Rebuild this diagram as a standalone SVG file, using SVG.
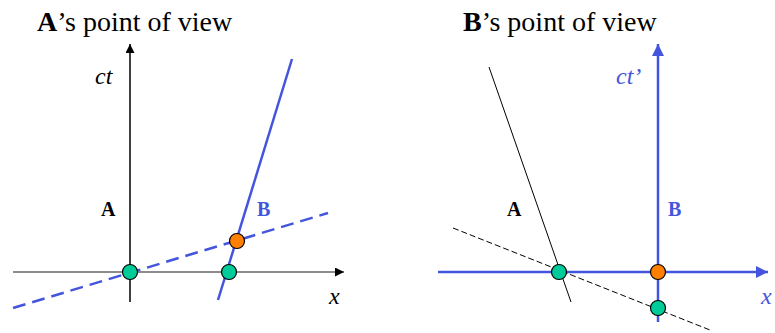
<svg xmlns="http://www.w3.org/2000/svg" width="775" height="333" viewBox="0 0 775 333">
<style>
text{font-family:"Times New Roman",Tinos,"Liberation Serif",serif}
.hd{font-size:28px;fill:#000}
.lb{font-size:20px;font-weight:bold}
.ix{font-size:24px;font-style:italic}
.blue{fill:#4455DD}
.blk{fill:#000}
.dot{stroke:#000;stroke-width:1.2}
.g{fill:#00CC99}
.o{fill:#FF7F00}
</style>
<defs>
<marker id="ak" viewBox="0 0 10 10" refX="10" refY="5" markerWidth="10" markerHeight="9" markerUnits="userSpaceOnUse" orient="auto"><path d="M0,0 L10,5 L0,10 z" fill="#000"/></marker>
<marker id="ab" viewBox="0 0 10 10" refX="10" refY="5" markerWidth="13" markerHeight="12" markerUnits="userSpaceOnUse" orient="auto"><path d="M0,0 L10,5 L0,10 z" fill="#4455DD"/></marker>
</defs>
<g id="left-panel">
<text class="hd" x="37" y="31"><tspan font-weight="bold">A</tspan>’s point of view</text>
<g id="connectors-left">
<line x1="130" y1="302" x2="130" y2="44" stroke="#000" stroke-width="1.5" marker-end="url(#ak)"/>
<line x1="13" y1="272" x2="344" y2="272" stroke="#666" stroke-width="1.5" marker-end="url(#ak)"/>
<line x1="292" y1="59" x2="218" y2="300" stroke="#4455DD" stroke-width="2.5"/>
<line x1="13" y1="308" x2="328" y2="213" stroke="#4455DD" stroke-width="2.5" stroke-dasharray="13,7"/>
</g>
<text class="ix blk" x="95" y="84">ct</text>
<text class="ix blk" x="329" y="304">x</text>
<text class="lb blk" x="101" y="216">A</text>
<text class="lb blue" x="257" y="216">B</text>
<g id="event-origin-left"><circle class="dot g" cx="130" cy="272" r="7.5"/></g>
<g id="event-x-left"><circle class="dot g" cx="229" cy="272" r="7.5"/></g>
<g id="event-b-left"><circle class="dot o" cx="237" cy="241" r="7.5"/></g>
</g>
<g id="right-panel">
<text class="hd" x="463" y="31"><tspan font-weight="bold">B</tspan>’s point of view</text>
<g id="connectors-right">
<line x1="658" y1="322" x2="658" y2="44" stroke="#4455DD" stroke-width="2.5" marker-end="url(#ab)"/>
<line x1="438" y1="272" x2="768" y2="272" stroke="#4455DD" stroke-width="2.5" marker-end="url(#ab)"/>
<line x1="489" y1="67" x2="571" y2="302" stroke="#000" stroke-width="1"/>
<line x1="453" y1="228" x2="710" y2="330" stroke="#000" stroke-width="1" stroke-dasharray="6,3"/>
</g>
<text class="ix blue" x="616" y="84">ct’</text>
<text class="ix blue" x="761" y="304">x</text>
<text class="lb blk" x="507" y="216">A</text>
<text class="lb blue" x="668" y="216">B</text>
<g id="event-origin-right"><circle class="dot g" cx="559" cy="272" r="7.5"/></g>
<g id="event-b-right"><circle class="dot o" cx="658" cy="272" r="7.5"/></g>
<g id="event-x-right"><circle class="dot g" cx="658" cy="308" r="7.5"/></g>
</g>
</svg>
